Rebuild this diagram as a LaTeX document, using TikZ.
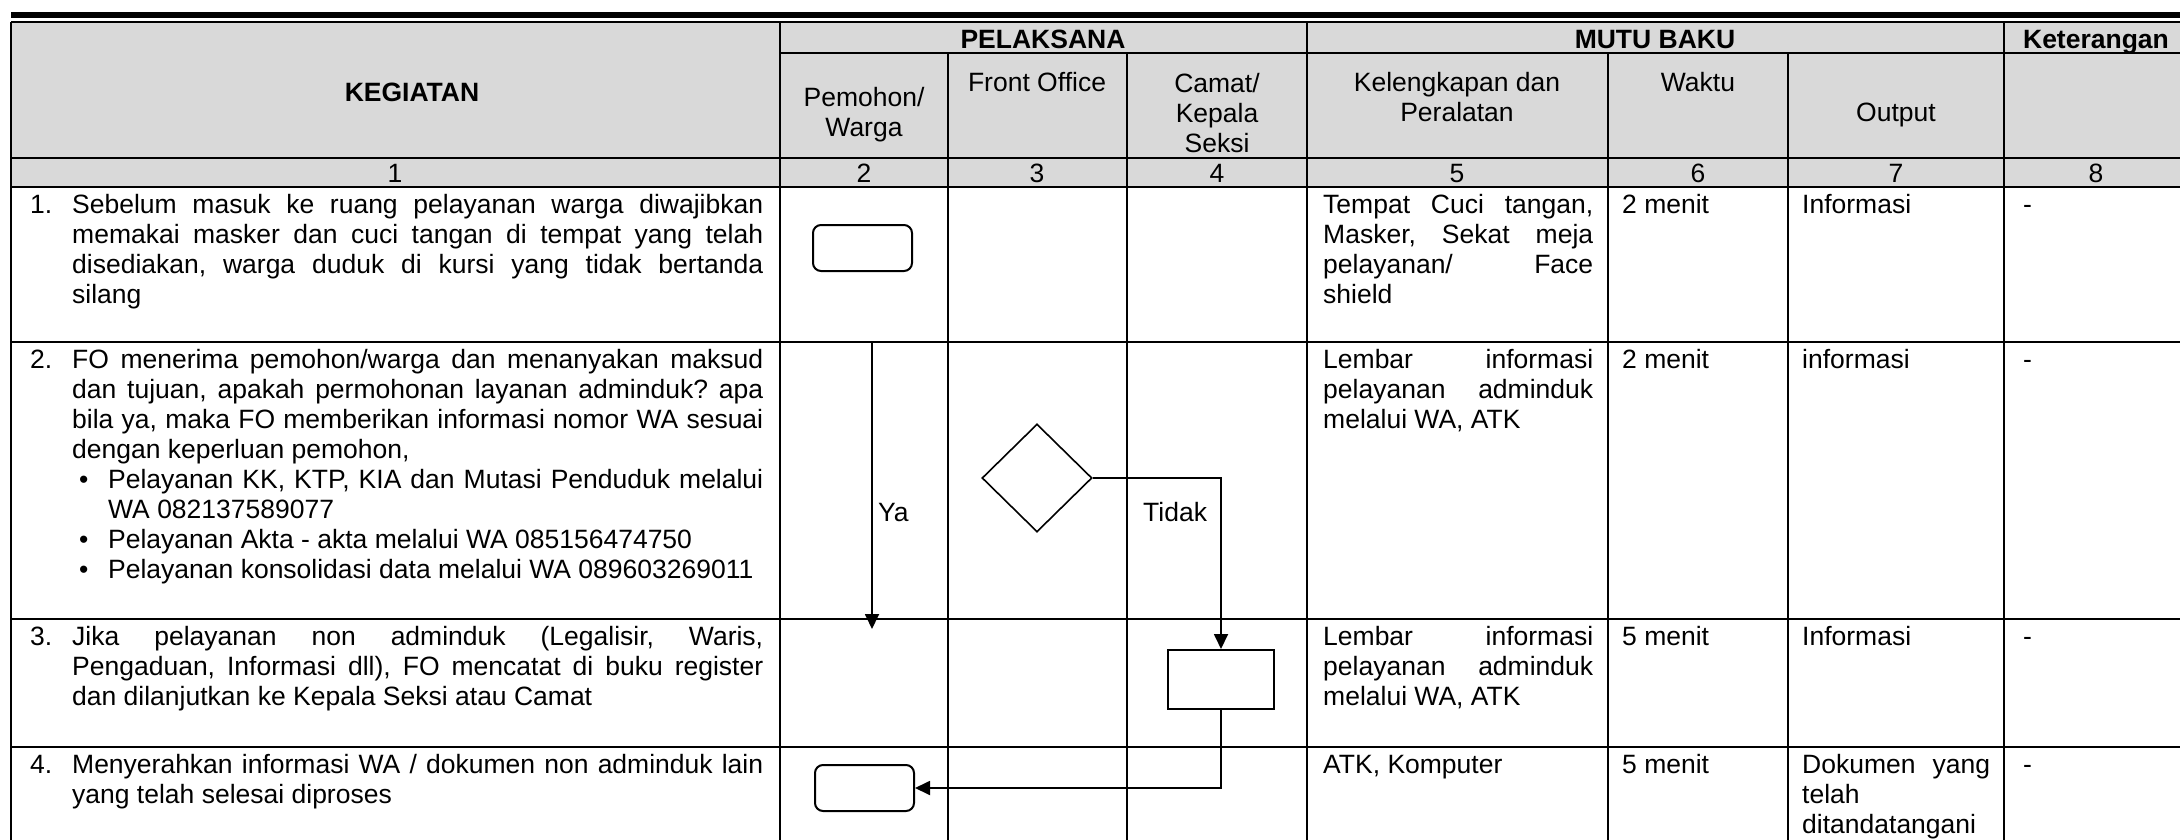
\documentclass[tikz,border=0pt]{standalone}
\usepackage{fontspec}
\setmainfont{Liberation Sans}
\usetikzlibrary{shapes.geometric,arrows.meta}
\definecolor{hdr}{RGB}{217,217,217}
\setlength{\parindent}{0pt}
\hyphenpenalty=10000
\exhyphenpenalty=10000
\tolerance=10000
\frenchspacing
\tikzset{
  tbl/.style={line width=1.4pt},
  txt/.style={inner sep=0pt, font=\fontsize{26.5}{30}\selectfont\frenchspacing, anchor=north west},
  jtxt/.style={txt, align=justify, text width=#1},
  htxt/.style={inner sep=0pt, font=\fontsize{26.5}{30}\selectfont, anchor=north, align=center},
  bhtxt/.style={htxt, font=\fontsize{26.5}{30}\selectfont\bfseries},
  term/.style={draw, line width=2pt, rounded corners=8pt, minimum width=99pt, minimum height=46pt, inner sep=0pt},
  proc/.style={draw, line width=2pt, minimum width=106pt, minimum height=59pt, inner sep=0pt},
  dec/.style={draw, diamond, line width=1.6pt, minimum width=110pt, minimum height=108pt, inner sep=0pt},
  flow/.style={line width=1.8pt, -{Triangle[length=15pt,width=14pt]}},
}
\begin{document}
\begin{tikzpicture}[x=1pt,y=-1pt]
\useasboundingbox (0,0) rectangle (2180,840);
\clip (0,0) rectangle (2180,840);
\def\R{2200}
% header background
\fill[hdr] (11,22) rectangle (\R,187);
% top rules
\draw[line width=6.5pt] (11,15) -- (\R,15);
\draw[tbl] (11,22) -- (\R,22);
\draw[tbl] (780,53) -- (\R,53);
\foreach \y in {158,187,342,619,747} \draw[tbl] (11,\y) -- (\R,\y);
\foreach \x in {11,780,1307,2004} \draw[tbl] (\x,22) -- (\x,860);
\foreach \x in {948,1127,1608,1788} \draw[tbl] (\x,53) -- (\x,860);
% header texts
\node[bhtxt] (hkeg) at (412,80.5) {\strut KEGIATAN};
\node[bhtxt] (hpel) at (1043,27.5) {\strut PELAKSANA};
\node[bhtxt] (hmutu) at (1655,27.5) {\strut MUTU BAKU};
\node[bhtxt] (hket) at (2096,27.5) {\strut Keterangan};
\node[htxt] (hpem) at (864,85.5) {\strut Pemohon/\\\strut Warga};
\node[htxt] (hfo) at (1037,70.5) {\strut Front Office};
\node[htxt] (hcam) at (1217,71.5) {\strut Camat/\\\strut Kepala\\\strut Seksi};
\node[htxt] (hkel) at (1457,70.5) {\strut Kelengkapan dan\\\strut Peralatan};
\node[htxt] (hwak) at (1698,70.5) {\strut Waktu};
\node[htxt] (hout) at (1896,100.5) {\strut Output};
% number row
\node[htxt] (n1) at (395,161.5) {\strut 1};
\node[htxt] (n2) at (864,161.5) {\strut 2};
\node[htxt] (n3) at (1037,161.5) {\strut 3};
\node[htxt] (n4) at (1217,161.5) {\strut 4};
\node[htxt] (n5) at (1457,161.5) {\strut 5};
\node[htxt] (n6) at (1698,161.5) {\strut 6};
\node[htxt] (n7) at (1896,161.5) {\strut 7};
\node[htxt] (n8) at (2096,161.5) {\strut 8};
% row 1
\node[jtxt=733pt] (k1) at (30,192.5) {\hangindent=42pt\hangafter=1\noindent\strut\makebox[42pt][l]{1.}Sebelum masuk ke ruang pelayanan warga diwajibkan\linebreak memakai masker dan cuci tangan di tempat yang telah\linebreak disediakan, warga duduk di kursi yang tidak bertanda\linebreak silang\par};
\node[jtxt=270pt] (e1) at (1323,192.5) {\strut Tempat Cuci tangan,\linebreak Masker, Sekat meja\linebreak pelayanan/ Face\linebreak shield\par};
\node[txt] (w1) at (1622,192.5) {\strut 2 menit};
\node[txt] (o1) at (1802,192.5) {\strut Informasi};
\node[txt] (r1) at (2023,192.5) {\strut -};
% row 2
\node[jtxt=733pt] (k2) at (30,347.5) {\hangindent=42pt\hangafter=1\noindent\strut\makebox[42pt][l]{2.}FO menerima pemohon/warga dan menanyakan maksud\linebreak dan tujuan, apakah permohonan layanan adminduk? apa\linebreak bila ya, maka FO memberikan informasi nomor WA sesuai\linebreak dengan keperluan pemohon,\par
\hangindent=78pt\hangafter=1\noindent\strut\hspace*{49pt}\makebox[29pt][l]{\textbullet}Pelayanan KK, KTP, KIA dan Mutasi Penduduk melalui\linebreak WA 082137589077\par
\noindent\strut\hspace*{49pt}\makebox[29pt][l]{\textbullet}Pelayanan Akta - akta melalui WA 085156474750\par
\noindent\strut\hspace*{49pt}\makebox[29pt][l]{\textbullet}Pelayanan konsolidasi data melalui WA 089603269011\par};
\node[jtxt=270pt] (e2) at (1323,347.5) {\strut Lembar informasi\linebreak pelayanan adminduk\linebreak melalui WA, ATK\par};
\node[txt] (w2) at (1622,347.5) {\strut 2 menit};
\node[txt] (o2) at (1802,347.5) {\strut informasi};
\node[txt] (r2) at (2023,347.5) {\strut -};
% row 3
\node[jtxt=733pt] (k3) at (30,624.5) {\hangindent=42pt\hangafter=1\noindent\strut\makebox[42pt][l]{3.}Jika pelayanan non adminduk (Legalisir, Waris,\linebreak Pengaduan, Informasi dll), FO mencatat di buku register\linebreak dan dilanjutkan ke Kepala Seksi atau Camat\par};
\node[jtxt=270pt] (e3) at (1323,624.5) {\strut Lembar informasi\linebreak pelayanan adminduk\linebreak melalui WA, ATK\par};
\node[txt] (w3) at (1622,624.5) {\strut 5 menit};
\node[txt] (o3) at (1802,624.5) {\strut Informasi};
\node[txt] (r3) at (2023,624.5) {\strut -};
% row 4
\node[jtxt=733pt] (k4) at (30,752.5) {\hangindent=42pt\hangafter=1\noindent\strut\makebox[42pt][l]{4.}Menyerahkan informasi WA / dokumen non adminduk lain\linebreak yang telah selesai diproses\par};
\node[txt] (e4) at (1323,752.5) {\strut ATK, Komputer};
\node[txt] (w4) at (1622,752.5) {\strut 5 menit};
\node[jtxt=188pt] (o4) at (1802,752.5) {\strut Dokumen yang\linebreak telah\linebreak ditandatangani\par};
\node[txt] (r4) at (2023,752.5) {\strut -};
% flowchart
\node[term] (t1) at (862.5,248) {};
\node[dec] (d1) at (1037,478) {};
\node[proc] (p1) at (1221,679.5) {};
\node[term] (t2) at (864.5,788) {};
\coordinate (ya0) at (982,342);
\coordinate (ya1) at (872,629);
\draw[flow] (ya0) -| (ya1);
\draw[flow] (d1.east) -| (p1.north);
\draw[flow] (p1.south) |- (t2.east);
\node[txt, anchor=base west] (lya) at (878,521.5) {Ya};
\node[txt, anchor=base west] (ltd) at (1143,521.5) {Tidak};
\end{tikzpicture}
\end{document}
